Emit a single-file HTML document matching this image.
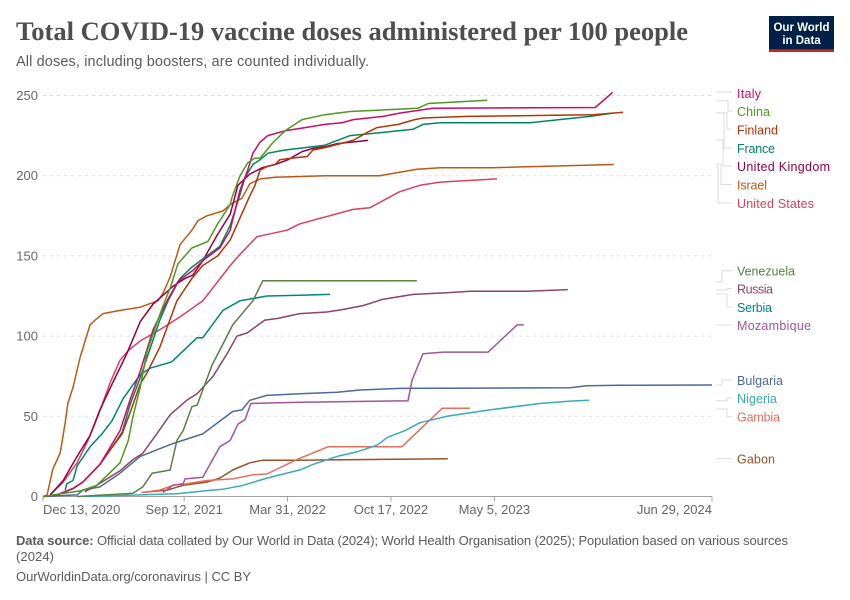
<!DOCTYPE html>
<html lang="en">
<head>
<meta charset="utf-8">
<title>Total COVID-19 vaccine doses administered per 100 people</title>
<style>
html,body{margin:0;padding:0;background:#fff;width:850px;height:600px;overflow:hidden}
svg{display:block;font-family:"Liberation Sans",sans-serif}
.foot{font-size:13px;fill:#5b5b5b}
.tick{font-size:13px;fill:#666}
.lab{font-size:12.5px}
.conn{fill:none;stroke:#ddd;stroke-width:1}
</style>
</head>
<body>
<svg id="chart" xmlns="http://www.w3.org/2000/svg" width="850" height="600" viewBox="0 0 850 600">
  <text x="16" y="40" font-family="'Liberation Serif',serif" font-weight="700" font-size="26.5" fill="#4e4e4e" textLength="672" lengthAdjust="spacing">Total COVID-19 vaccine doses administered per 100 people</text>
  <text x="16" y="66" font-size="14.5" fill="#5b5b5b" textLength="353" lengthAdjust="spacing">All doses, including boosters, are counted individually.</text>

  <g>
    <rect x="769" y="16" width="65" height="36" fill="#002147"/>
    <rect x="769" y="49.3" width="65" height="2.7" fill="#ce261e"/>
    <text x="801.5" y="31" text-anchor="middle" font-size="11.5" font-weight="700" fill="#fff">Our World</text>
    <text x="801.5" y="44" text-anchor="middle" font-size="11.5" font-weight="700" fill="#fff">in Data</text>
  </g>

  <g id="grid"></g>
  <g id="axes"></g>
  <g id="lines"></g>

  <g>
    <polyline class="conn" points="716,92 732,92"/>
    <polyline class="conn" points="716,100.7 728,100.7 728,111 732,111"/>
    <polyline class="conn" points="716,112.7 727,112.7 727,129 732,129"/>
    <polyline class="conn" points="716,113 724,113 724,148 732,148"/>
    <polyline class="conn" points="716,140 723,140 723,166 732,166"/>
    <polyline class="conn" points="716,164 721,164 721,184.5 732,184.5"/>
    <polyline class="conn" points="716,166 718,166 718,203 732,203"/>
    <polyline class="conn" points="716,281.7 722,281.7 722,270.7 732,270.7"/>
    <polyline class="conn" points="716,290 727,290 727,288.5 732,288.5"/>
    <polyline class="conn" points="716,294 727,294 727,307 732,307"/>
    <polyline class="conn" points="716,325 732,325"/>
    <polyline class="conn" points="716,385 722,385 722,380 732,380"/>
    <polyline class="conn" points="716,400.7 727,400.7 727,398 732,398"/>
    <polyline class="conn" points="716,409 727,409 727,416.7 732,416.7"/>
    <polyline class="conn" points="716,458.7 732,458.7"/>
  </g>

  <g>
    <text class="lab" x="737" y="98" fill="#cf0a66" textLength="24" lengthAdjust="spacing">Italy</text>
    <text class="lab" x="737" y="116" fill="#4c9a1f" textLength="33" lengthAdjust="spacing">China</text>
    <text class="lab" x="737" y="134.5" fill="#b13507" textLength="41" lengthAdjust="spacing">Finland</text>
    <text class="lab" x="737" y="153" fill="#00875e" textLength="38" lengthAdjust="spacing">France</text>
    <text class="lab" x="737" y="171" fill="#970046" textLength="93" lengthAdjust="spacing">United Kingdom</text>
    <text class="lab" x="737" y="189.5" fill="#be5915" textLength="30" lengthAdjust="spacing">Israel</text>
    <text class="lab" x="737" y="208" fill="#de3f5c" textLength="77" lengthAdjust="spacing">United States</text>
    <text class="lab" x="737" y="275.5" fill="#578145" textLength="58" lengthAdjust="spacing">Venezuela</text>
    <text class="lab" x="737" y="293.5" fill="#8c4569" textLength="36" lengthAdjust="spacing">Russia</text>
    <text class="lab" x="737" y="312" fill="#00847e" textLength="35" lengthAdjust="spacing">Serbia</text>
    <text class="lab" x="737" y="330" fill="#a2559c" textLength="74" lengthAdjust="spacing">Mozambique</text>
    <text class="lab" x="737" y="385" fill="#4c6a9c" textLength="46" lengthAdjust="spacing">Bulgaria</text>
    <text class="lab" x="737" y="403" fill="#38aaba" textLength="40" lengthAdjust="spacing">Nigeria</text>
    <text class="lab" x="737" y="421.5" fill="#e56e5a" textLength="43" lengthAdjust="spacing">Gambia</text>
    <text class="lab" x="737" y="463.5" fill="#9a5129" textLength="38" lengthAdjust="spacing">Gabon</text>
  </g>

  <text class="foot" x="16" y="545" textLength="772" lengthAdjust="spacing"><tspan font-weight="700">Data source:</tspan> Official data collated by Our World in Data (2024); World Health Organisation (2025); Population based on various sources</text>
  <text class="foot" x="16" y="561" textLength="38" lengthAdjust="spacing">(2024)</text>
  <text class="foot" x="16" y="581" textLength="235" lengthAdjust="spacing">OurWorldinData.org/coronavirus | CC BY</text>
</svg>
<script>
const yTicks = [0, 50, 100, 150, 200, 250];
const xTickDays = [0, 273, 473, 673, 873, 1294];
const xTickLabels = ["Dec 13, 2020", "Sep 12, 2021", "Mar 31, 2022", "Oct 17, 2022", "May 5, 2023", "Jun 29, 2024"];

const seriesNames = ["gabon", "gambia", "nigeria", "bulgaria", "mozambique", "serbia", "russia", "venezuela", "united-states", "israel", "united-kingdom", "france", "finland", "italy", "china"];
const seriesColors = ["#9a5129", "#e56e5a", "#38aaba", "#4c6a9c", "#a2559c", "#00847e", "#8c4569", "#578145", "#de3f5c", "#be5915", "#970046", "#00875e", "#b13507", "#cf0a66", "#4c9a1f"];

const gabonDays = [191, 240, 271, 317, 342, 367, 400, 425, 483, 783];
const gabonValues = [2.5, 4, 7, 9, 11.5, 16.5, 21, 22.6, 22.6, 23.5];
const gambiaDays = [191, 226, 251, 278, 317, 367, 406, 433, 491, 551, 694, 772, 826];
const gambiaValues = [2.5, 4, 7, 8, 10, 11, 13.5, 14, 23, 31, 31, 55, 55];
const nigeriaDays = [77, 259, 317, 348, 387, 433, 497, 522, 569, 609, 646, 667, 700, 729, 781, 864, 961, 1019, 1056];
const nigeriaValues = [0, 1.7, 3.7, 4.5, 7, 11.5, 16.6, 20, 25, 28, 32, 37, 41, 46, 50, 54, 58, 59.5, 60];
const bulgariaDays = [0, 66, 77, 110, 149, 188, 251, 309, 342, 367, 385, 400, 433, 497, 569, 613, 690, 1019, 1052, 1116, 1294];
const bulgariaValues = [0, 1, 4, 6, 14.5, 25, 33, 39, 47, 53, 54, 60, 63, 64, 65, 66.4, 67.4, 67.8, 69, 69.3, 69.5];
const mozambiqueDays = [232, 251, 271, 275, 309, 323, 342, 362, 377, 391, 402, 497, 706, 714, 735, 774, 861, 917, 930];
const mozambiqueValues = [2.5, 7, 8, 11, 12, 20, 31, 35, 45, 48, 58, 58.7, 59.7, 72.6, 89, 90, 90, 107, 107];
const serbiaDays = [43, 46, 58, 66, 91, 114, 133, 155, 188, 207, 249, 298, 309, 348, 381, 433, 497, 555];
const serbiaValues = [4, 8, 10, 19, 31, 39, 47, 61, 76, 80, 84, 99, 99, 116, 122, 125, 125.5, 126];
const russiaDays = [81, 104, 149, 174, 193, 220, 246, 278, 298, 329, 356, 375, 395, 429, 453, 497, 549, 580, 619, 658, 716, 781, 826, 936, 1015];
const russiaValues = [3, 7, 16, 23, 27, 39, 51, 60, 64, 75, 89, 100, 102, 110, 111, 114, 115, 116.6, 119, 123, 126, 127, 128, 128, 129];
const venezuelaDays = [66, 174, 193, 211, 246, 259, 271, 288, 298, 327, 348, 367, 406, 425, 723];
const venezuelaValues = [0, 2, 6, 14.5, 16.5, 35, 41, 56, 57, 82, 95, 107, 122, 134.5, 134.5];
const unitedStatesDays = [14, 39, 66, 87, 106, 130, 149, 165, 188, 226, 265, 309, 362, 381, 414, 472, 497, 600, 632, 690, 729, 768, 878];
const unitedStatesValues = [1, 9, 21, 35, 50, 71, 85, 91, 97, 104, 112, 122, 144, 151, 162, 166, 170, 179, 180, 190, 194, 196, 198];
const israelDays = [0, 8, 19, 33, 43, 48, 58, 72, 91, 101, 116, 149, 188, 222, 232, 246, 265, 288, 300, 317, 348, 362, 385, 400, 420, 449, 545, 652, 723, 768, 870, 1104];
const israelValues = [0, 1, 17, 27, 46, 58, 68, 87, 107, 110, 114, 116, 118, 122, 126.5, 137, 157, 166, 172, 175, 178, 182, 186, 195, 198, 199, 200, 200, 204, 205, 205, 207];
const unitedKingdomDays = [14, 39, 66, 91, 110, 135, 162, 188, 213, 236, 251, 275, 290, 309, 337, 362, 377, 400, 424, 449, 474, 501, 522, 545, 569, 629];
const unitedKingdomValues = [1, 10, 25, 38, 54, 71, 89, 109, 120, 126.5, 131, 136, 138, 147, 163, 176, 194, 201, 205, 207, 210, 215, 217, 218, 220, 222];
const franceDays = [27, 58, 77, 110, 130, 153, 168, 188, 207, 226, 242, 265, 288, 317, 342, 362, 379, 391, 406, 420, 435, 468, 545, 594, 658, 716, 735, 768, 942, 1058, 1102];
const franceValues = [1, 5, 9, 20, 29, 40, 57, 74, 92, 110, 122, 136, 143, 150, 156, 169, 186, 199, 207, 210, 214, 216, 219, 225, 227, 229, 232, 233, 233, 237, 239];
const finlandDays = [27, 58, 77, 110, 130, 153, 168, 188, 201, 226, 259, 288, 309, 338, 362, 398, 410, 420, 435, 449, 458, 482, 511, 522, 545, 600, 627, 646, 687, 719, 735, 820, 1064, 1122];
const finlandValues = [1, 5, 9, 20, 29, 39, 52, 70, 77, 93, 122, 136, 144, 150, 160, 186, 194, 203.5, 206, 207, 210, 211, 212, 216, 217.5, 222, 227, 230, 232, 235, 236, 237, 238, 239.5];
const italyDays = [2, 27, 58, 77, 110, 149, 168, 188, 213, 240, 261, 290, 313, 342, 362, 381, 396, 406, 420, 435, 468, 507, 545, 578, 600, 658, 690, 754, 1068, 1102];
const italyValues = [0, 1, 5, 9, 20, 41, 60, 78, 104, 122, 134, 141, 148, 155, 166, 191, 203.5, 214, 221, 225, 228, 230, 232, 233, 235, 237, 239, 242, 242.5, 252];
const chinaDays = [0, 20, 72, 104, 130, 149, 165, 174, 188, 201, 220, 236, 246, 261, 288, 319, 338, 362, 365, 381, 396, 410, 420, 443, 468, 501, 545, 594, 725, 745, 859];
const chinaValues = [0, 1, 3.5, 7, 15, 21, 35, 50, 68, 90, 108, 122, 130, 145, 155, 159, 170, 182, 186, 200, 208, 211, 211, 220, 228, 235, 238, 240, 242, 245, 247];

const seriesDays = [gabonDays, gambiaDays, nigeriaDays, bulgariaDays, mozambiqueDays, serbiaDays, russiaDays, venezuelaDays, unitedStatesDays, israelDays, unitedKingdomDays, franceDays, finlandDays, italyDays, chinaDays];
const seriesValues = [gabonValues, gambiaValues, nigeriaValues, bulgariaValues, mozambiqueValues, serbiaValues, russiaValues, venezuelaValues, unitedStatesValues, israelValues, unitedKingdomValues, franceValues, finlandValues, italyValues, chinaValues];

const NS = "http://www.w3.org/2000/svg";
const plot = { left: 43, right: 712, top: 95.5, bottom: 496.5, maxDay: 1294, maxValue: 250 };
function xScale(day) { return plot.left + (day / plot.maxDay) * (plot.right - plot.left); }
function yScale(value) { return plot.bottom - (value / plot.maxValue) * (plot.bottom - plot.top); }

const gridGroup = document.getElementById("grid");
const axesGroup = document.getElementById("axes");
const linesGroup = document.getElementById("lines");

yTicks.forEach(function (tick) {
  if (tick > 0) {
    const grid = document.createElementNS(NS, "line");
    
    
    grid.setAttribute("x1", plot.left);
    grid.setAttribute("x2", plot.right);
    grid.setAttribute("y1", yScale(tick));
    grid.setAttribute("y2", yScale(tick));
    grid.setAttribute("stroke", "#dddddd");
    grid.setAttribute("stroke-dasharray", "3,4");
    gridGroup.appendChild(grid);
  }
  const label = document.createElementNS(NS, "text");
  
  
  label.setAttribute("class", "tick");
  label.setAttribute("x", 38);
  label.setAttribute("y", yScale(tick) + 4.5);
  label.setAttribute("text-anchor", "end");
  label.textContent = tick;
  axesGroup.appendChild(label);
});

const xAxisLine = document.createElementNS(NS, "line");


xAxisLine.setAttribute("x1", plot.left);
xAxisLine.setAttribute("x2", plot.right);
xAxisLine.setAttribute("y1", plot.bottom);
xAxisLine.setAttribute("y2", plot.bottom);
xAxisLine.setAttribute("stroke", "#a1a1a1");
axesGroup.appendChild(xAxisLine);

xTickDays.forEach(function (day, i) {
  const mark = document.createElementNS(NS, "line");
  
  
  mark.setAttribute("x1", xScale(day));
  mark.setAttribute("x2", xScale(day));
  mark.setAttribute("y1", plot.bottom);
  mark.setAttribute("y2", plot.bottom + 5);
  mark.setAttribute("stroke", "#a1a1a1");
  axesGroup.appendChild(mark);
  const label = document.createElementNS(NS, "text");
  
  
  label.setAttribute("class", "tick");
  label.setAttribute("y", 514);
  label.setAttribute("x", xScale(day));
  if (i === 0) {
    label.setAttribute("text-anchor", "start");
  } else if (i === xTickDays.length - 1) {
    label.setAttribute("text-anchor", "end");
  } else {
    label.setAttribute("text-anchor", "middle");
  }
  label.textContent = xTickLabels[i];
  axesGroup.appendChild(label);
});

seriesNames.forEach(function (name, i) {
  const days = seriesDays[i];
  const values = seriesValues[i];
  const d = days.map(function (day, j) {
    return (j ? "L" : "M") + xScale(day).toFixed(1) + " " + yScale(values[j]).toFixed(1);
  }).join("");
  const path = document.createElementNS(NS, "path");
  
  
  path.setAttribute("d", d);
  path.setAttribute("fill", "none");
  path.setAttribute("stroke", seriesColors[i]);
  path.setAttribute("stroke-width", "1.5");
  path.setAttribute("stroke-linejoin", "round");
  linesGroup.appendChild(path);
});
</script>
</body>
</html>
